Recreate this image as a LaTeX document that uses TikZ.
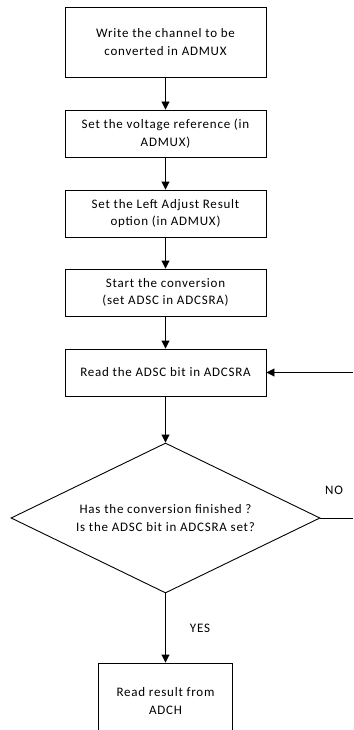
\documentclass[tikz,border=0pt]{standalone}
\usepackage{fontspec}
\setmainfont{Carlito}[LetterSpace=6]
\usetikzlibrary{shapes.geometric,arrows.meta}
\begin{document}
\begin{tikzpicture}[x=1pt,y=1pt,
  every node/.style={font=\fontsize{13}{17.5}\selectfont, align=center},
  procbox/.style={draw, line width=0.9pt, rectangle, minimum width=201pt, inner sep=0pt},
  decision/.style={draw, line width=0.9pt, diamond, minimum width=309pt, minimum height=150pt, inner sep=0pt, shape aspect=2.06},
  flow/.style={line width=0.9pt, -{Triangle[length=8pt,width=8pt]}},
  plain/.style={line width=0.9pt}]
\useasboundingbox (0,0) rectangle (353,-730);
\clip (0,0) rectangle (353,-730);
\node[procbox, minimum height=70pt] (b1) at (165.5,-42) {Write the channel to be\\converted in ADMUX};
\node[procbox, minimum height=47pt] (b2) at (165.5,-133.5) {Set the voltage reference (in\\ADMUX)};
\node[procbox, minimum height=47pt] (b3) at (165.5,-213.5) {Set the Left Adjust Result\\option (in ADMUX)};
\node[procbox, minimum height=47pt] (b4) at (165.5,-292.5) {Start the conversion\\(set ADSC in ADCSRA)};
\node[procbox, minimum height=47pt] (b5) at (165.5,-372.5) {Read the ADSC bit in ADCSRA};
\node[decision] (d) at (165.5,-518) {Has the conversion finished ?\\Is the ADSC bit in ADCSRA set?};
\node[procbox, minimum width=134pt, minimum height=76pt] (b6) at (165.5,-701) {Read result from\\ADCH};
\draw[flow] (b1) -- (b2);
\draw[flow] (b2) -- (b3);
\draw[flow] (b3) -- (b4);
\draw[flow] (b4) -- (b5);
\draw[flow] (b5) -- (d);
\draw[flow] (d) -- (b6);
\coordinate (noend) at (353,-518);
\coordinate (backin) at (353,-372.5);
\draw[plain] (d.east) -- (noend);
\draw[flow] (backin) -- (b5.east);
\node (no) at (334,-490) {NO};
\node (yes) at (200,-628) {YES};
\end{tikzpicture}
\end{document}
